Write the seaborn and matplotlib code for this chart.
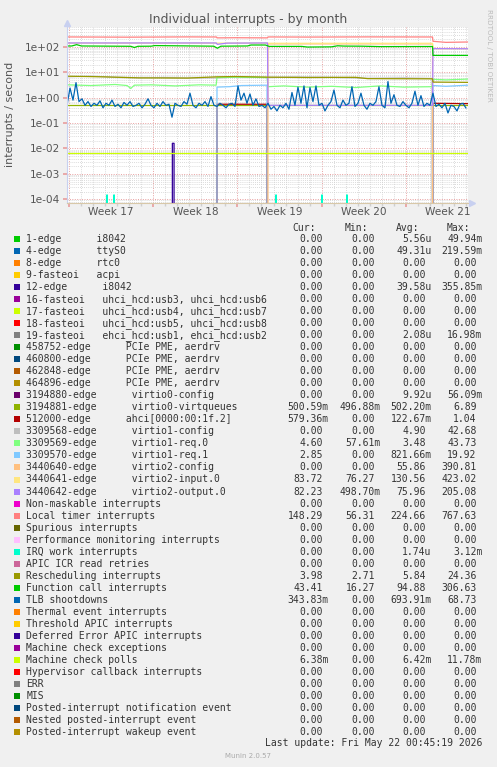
import numpy as np
import pandas as pd
import matplotlib
matplotlib.use("Agg")
import matplotlib.pyplot as plt
from matplotlib.patches import Rectangle
from matplotlib.ticker import FixedLocator, LogLocator, FuncFormatter, NullFormatter
import seaborn as sns

sns.set_theme(style="white")
plt.rcParams['font.family'] = ['DejaVu Sans']

W, H = 497, 767

# --- legend table -----------------------------------------------------------
names = ["1-edge      i8042", "4-edge      ttyS0", "8-edge      rtc0",
         "9-fasteoi   acpi", "12-edge      i8042",
         "16-fasteoi   uhci_hcd:usb3, uhci_hcd:usb6",
         "17-fasteoi   uhci_hcd:usb4, uhci_hcd:usb7",
         "18-fasteoi   uhci_hcd:usb5, uhci_hcd:usb8",
         "19-fasteoi   ehci_hcd:usb1, ehci_hcd:usb2",
         "458752-edge      PCIe PME, aerdrv", "460800-edge      PCIe PME, aerdrv",
         "462848-edge      PCIe PME, aerdrv", "464896-edge      PCIe PME, aerdrv",
         "3194880-edge      virtio0-config", "3194881-edge      virtio0-virtqueues",
         "512000-edge      ahci[0000:00:1f.2]", "3309568-edge      virtio1-config",
         "3309569-edge      virtio1-req.0", "3309570-edge      virtio1-req.1",
         "3440640-edge      virtio2-config", "3440641-edge      virtio2-input.0",
         "3440642-edge      virtio2-output.0", "Non-maskable interrupts",
         "Local timer interrupts", "Spurious interrupts",
         "Performance monitoring interrupts", "IRQ work interrupts",
         "APIC ICR read retries", "Rescheduling interrupts",
         "Function call interrupts", "TLB shootdowns", "Thermal event interrupts",
         "Threshold APIC interrupts", "Deferred Error APIC interrupts",
         "Machine check exceptions", "Machine check polls",
         "Hypervisor callback interrupts", "ERR", "MIS",
         "Posted-interrupt notification event", "Nested posted-interrupt event",
         "Posted-interrupt wakeup event"]

cur = ["0.00", "0.00", "0.00", "0.00", "0.00", "0.00", "0.00", "0.00", "0.00",
       "0.00", "0.00", "0.00", "0.00",
       "0.00", "500.59m", "579.36m", "0.00", "4.60", "2.85", "0.00", "83.72", "82.23",
       "0.00", "148.29", "0.00", "0.00", "0.00", "0.00", "3.98", "43.41", "343.83m",
       "0.00", "0.00", "0.00", "0.00", "6.38m", "0.00", "0.00", "0.00", "0.00", "0.00", "0.00"]
mins = ["0.00", "0.00", "0.00", "0.00", "0.00", "0.00", "0.00", "0.00", "0.00",
        "0.00", "0.00", "0.00", "0.00",
        "0.00", "496.88m", "0.00", "0.00", "57.61m", "0.00", "0.00", "76.27", "498.70m",
        "0.00", "56.31", "0.00", "0.00", "0.00", "0.00", "2.71", "16.27", "0.00",
        "0.00", "0.00", "0.00", "0.00", "0.00", "0.00", "0.00", "0.00", "0.00", "0.00", "0.00"]
avgs = ["5.56u", "49.31u", "0.00", "0.00", "39.58u", "0.00", "0.00", "0.00", "2.08u",
        "0.00", "0.00", "0.00", "0.00",
        "9.92u", "502.20m", "122.67m", "4.90", "3.48", "821.66m", "55.86", "130.56", "75.96",
        "0.00", "224.66", "0.00", "0.00", "1.74u", "0.00", "5.84", "94.88", "693.91m",
        "0.00", "0.00", "0.00", "0.00", "6.42m", "0.00", "0.00", "0.00", "0.00", "0.00", "0.00"]
maxs = ["49.94m", "219.59m", "0.00", "0.00", "355.85m", "0.00", "0.00", "0.00", "16.98m",
        "0.00", "0.00", "0.00", "0.00",
        "56.09m", "6.89", "1.04", "42.68", "43.73", "19.92", "390.81", "423.02", "205.08",
        "0.00", "767.63", "0.00", "0.00", "3.12m", "0.00", "24.36", "306.63", "68.73",
        "0.00", "0.00", "0.00", "0.00", "11.78m", "0.00", "0.00", "0.00", "0.00", "0.00", "0.00"]

munin_palette = ["#00CC00", "#0066B3", "#FF8000", "#FFCC00", "#330099", "#990099",
                 "#CCFF00", "#FF0000", "#808080", "#008F00", "#00487D", "#B35A00",
                 "#B38F00", "#6B006B", "#8FB300", "#B30000", "#BEBEBE", "#80FF80",
                 "#80C9FF", "#FFC080", "#FFE680", "#AA80FF", "#EE00CC", "#FF8080",
                 "#666600", "#FFBFFF", "#00FFCC", "#CC6699", "#999900"]
colors = [munin_palette[i % len(munin_palette)] for i in range(len(names))]

# --- series (x in days since start of graph) -------------------------------
i8042_x = [0, 8.74, 8.76, 8.90, 8.92, 33.34]
i8042_y = [0, 0, 0.016, 0.016, 0, 0]

vqueue_x = [0, 33.34]
vqueue_y = [0.502, 0.502]

ahci_x = [0, 12.43, 12.47, 16.63, 16.71, 30.39, 30.43, 33.34]
ahci_y = [0, 0, 0.55, 0.55, 0, 0, 0.60, 0.58]

v1cfg_x = [0, 2, 4, 6, 8, 10, 12.4, 14, 16.7, 19, 22, 25, 28, 30.35, 30.43, 33.34]
v1cfg_y = [6.6, 7.0, 6.3, 6.0, 6.2, 5.9, 6.0, 6.4, 6.2, 6.5, 6.3, 5.8, 6.0, 5.7, 0, 0]

req0_x = [0, 2, 4, 5, 5.3, 5.6, 7, 9, 11, 12.4, 12.47, 14, 16.63, 16.71,
          18, 20, 22, 24, 26, 28, 30.35, 30.43, 31.5, 33.34]
req0_y = [3.2, 3.0, 3.3, 3.0, 2.3, 3.1, 3.2, 2.9, 3.2, 3.1, 6.2, 6.4, 6.2, 2.7,
          2.9, 2.6, 2.8, 2.5, 2.9, 2.6, 2.7, 5.3, 5.0, 5.4]

req1_x = [0, 12.43, 12.47, 13.5, 14.5, 16.63, 16.71, 30.39, 30.43, 31.5, 33.34]
req1_y = [0, 0, 2.6, 2.7, 3.0, 3.1, 0, 0, 3.0, 2.8, 3.1]

v2cfg_x = [0, 16.67, 16.71, 30.39, 30.43, 33.34]
v2cfg_y = [0, 0, 130, 130, 0, 0]

v2in_x = [0, 16.67, 16.71, 30.39, 30.43, 33.34]
v2in_y = [140, 140, 138, 138, 84, 84]

v2out_x = [0, 12.4, 12.5, 13.3, 16.67, 16.71, 30.39, 30.43, 33.34]
v2out_y = [142, 142, 125, 140, 142, 0.5, 0.5, 85, 84]

timer_x = [0, 5, 10, 12.43, 12.47, 14, 16.67, 16.71, 20, 25, 30.39, 30.43, 31.5, 33.34]
timer_y = [245, 240, 246, 244, 225, 228, 225, 245, 242, 246, 244, 165, 150, 155]

irqwork_x = [0, 3.25, 3.33, 3.41, 3.83, 3.91, 3.99, 17.30, 17.38, 17.46,
             21.12, 21.20, 21.28, 23.20, 23.28, 23.36, 33.34]
irqwork_y = [0, 0, 1.5e-4, 0, 0, 1.5e-4, 0, 0, 1.5e-4, 0,
             0, 1.5e-4, 0, 0, 1.5e-4, 0, 0]

resched_x = [0, 3, 6, 10, 12.47, 14, 16.7, 20, 24, 25, 30.39, 30.43, 33.34]
resched_y = [7.0, 6.6, 6.0, 5.9, 6.6, 6.8, 6.4, 6.2, 6.3, 5.6, 5.5, 4.1, 4.0]

funccall_x = [0, 0.4, 0.8, 1.2, 5.3, 5.6, 5.9, 7.0, 7.3, 12.2, 12.5, 12.8, 15.0,
              15.3, 16.5, 16.8, 19.5, 20.0, 22.0, 22.5, 23.0, 24.5, 26.0, 30.39, 30.43, 33.34]
funccall_y = [108, 108, 122, 108, 105, 94, 105, 106, 112, 106, 88, 106, 108,
              118, 118, 104, 104, 98, 100, 110, 107, 106, 102, 103, 46, 46]

tlb_step = 0.2494  # one sample every 3 px of the original graph
tlb_y = [0.5, 2.4, 0.8, 3.9, 0.7, 0.9, 0.5, 0.7, 0.45, 0.6,
         0.5, 0.75, 0.4, 0.6, 0.5, 0.8, 0.45, 0.55, 0.4, 0.65,
         0.5, 0.7, 0.45, 0.5, 0.6, 0.4, 0.55, 0.9, 0.5, 0.4,
         0.6, 0.45, 0.7, 0.5, 0.55, 0.17, 0.6, 0.5, 0.45, 0.7,
         0.55, 1.5, 0.5, 0.4, 0.6, 0.5, 0.7, 0.45, 1.1, 0.5,
         0.45, 0.6, 0.5, 0.4, 0.55, 0.6, 0.45, 2.9, 0.8, 1.5,
         0.6, 1.4, 0.5, 0.9, 0.45, 0.5, 0.4, 0.6, 0.35, 0.45,
         0.3, 0.5, 0.4, 0.6, 0.35, 1.6, 0.5, 2.6, 0.6, 2.9,
         0.4, 2.5, 0.7, 2.9, 0.5, 0.6, 0.3, 0.5, 0.7, 2.0,
         0.5, 0.4, 0.8, 0.5, 0.6, 2.7, 0.45, 0.6, 1.5, 0.5,
         0.35, 0.6, 0.5, 0.7, 2.7, 0.5, 0.4, 4.3, 0.6, 1.3,
         0.5, 0.45, 0.7, 0.5, 0.4, 0.6, 1.8, 0.5, 1.2, 0.45,
         0.6, 0.5, 1.5, 0.45, 0.55, 0.4, 0.6, 0.25, 0.5, 0.45,
         0.3, 0.55, 0.6, 0.39]
tlb_x = list(np.arange(len(tlb_y)) * tlb_step)

mcpoll_x = [0, 33.34]
mcpoll_y = [0.0064, 0.0064]

series = [
    (4, i8042_x, i8042_y), (14, vqueue_x, vqueue_y), (15, ahci_x, ahci_y),
    (16, v1cfg_x, v1cfg_y), (17, req0_x, req0_y), (18, req1_x, req1_y),
    (19, v2cfg_x, v2cfg_y), (20, v2in_x, v2in_y), (21, v2out_x, v2out_y),
    (23, timer_x, timer_y), (26, irqwork_x, irqwork_y), (28, resched_x, resched_y),
    (29, funccall_x, funccall_y), (30, tlb_x, tlb_y), (35, mcpoll_x, mcpoll_y),
]

frames = []
for idx, xs, ys in series:
    frames.append(pd.DataFrame({"day": xs, "rate": ys, "series": names[idx]}))
df = pd.concat(frames, ignore_index=True)
order = [names[i] for i, _, _ in series]
pal = {names[i]: colors[i] for i, _, _ in series}

week_starts = [0.17, 7.17, 14.17, 21.17, 28.17]
week_labels = ["Week 17", "Week 18", "Week 19", "Week 20", "Week 21"]

# --- figure -------------------------------------------------------------------
fig = plt.figure(figsize=(W / 100, H / 100), dpi=100)
fig.patch.set_facecolor("#F0F0F0")
ax = fig.add_axes([67 / W, 1 - 202.7 / H, 401 / W, (202.7 - 27) / H])
ax.set_facecolor("white")

sns.lineplot(data=df, x="day", y="rate", hue="series", hue_order=order,
             palette=pal, estimator=None, sort=False, lw=0.9, legend=False, ax=ax)

ax.set_yscale("log", nonpositive="clip")
ax.set_ylim(7.35e-5, 603)
ax.set_xlim(0, 33.34)
ax.set_xlabel("")
ax.set_ylabel("")

ax.yaxis.set_major_locator(LogLocator(base=10, numticks=20))
ax.yaxis.set_minor_locator(LogLocator(base=10, subs=range(2, 10), numticks=20))
ax.yaxis.set_major_formatter(FuncFormatter(lambda v, _: f"{v:.0e}"))
ax.yaxis.set_minor_formatter(NullFormatter())

ax.xaxis.set_major_locator(FixedLocator(week_starts))
ax.xaxis.set_minor_locator(FixedLocator(np.arange(0.17, 33.34, 1.0)))
ax.xaxis.set_major_formatter(NullFormatter())

dots = (0, (1, 1.5))
ax.grid(which="major", axis="both", color="#E8A0A0", ls=dots, lw=0.7)
ax.grid(which="minor", axis="both", color="#CFCFCF", ls=dots, lw=0.6)
ax.set_axisbelow(True)

ax.tick_params(axis="y", which="major", length=3, color="#E8A0A0", pad=2,
               labelsize=7.6, labelcolor="#555555", left=True)
ax.tick_params(axis="y", which="minor", length=0)
ax.tick_params(axis="x", which="major", length=3, color="#E8A0A0", bottom=True)
ax.tick_params(axis="x", which="minor", length=2, color="#CFCFCF", bottom=True)

for s in ["top", "right"]:
    ax.spines[s].set_visible(False)
ax.spines["left"].set_color("#C8D0F0")
ax.spines["bottom"].set_color("#D8C8A8")
ax.spines["left"].set_linewidth(0.8)
ax.spines["bottom"].set_linewidth(0.8)
ax.plot([0], [1.02], marker="^", ms=4, color="#C8D0F0", transform=ax.transAxes, clip_on=False)
ax.plot([1.01], [0], marker=">", ms=4, color="#C8D0F0", transform=ax.transAxes, clip_on=False)

trans = ax.get_xaxis_transform()
for d, lab in zip(week_starts, week_labels):
    ax.text(d + 3.5, -0.055, lab, transform=trans, ha="center", va="center",
            fontsize=7.6, color="#555555")


def fx(px):
    return px / W


def fy(py):
    return 1 - py / H


fig.text(0.5, fy(19.3), "Individual interrupts - by month", ha="center", va="center",
         fontsize=9, color="#555555")
fig.text(fx(10), fy(114), "interrupts / second", rotation=90, ha="center", va="center",
         fontsize=8, color="#555555")
fig.text(fx(489), fy(55), "RRDTOOL / TOBI OETIKER", rotation=270, ha="center",
         va="center", fontsize=5.2, color="#BBBBBB")

mono_size = 7.0
mono = dict(family="DejaVu Sans Mono", fontsize=mono_size, color="#333333", va="center")
for lab, xr in zip(["Cur:", "Min:", "Avg:", "Max:"], [316, 368, 419, 470]):
    fig.text(fx(xr), fy(227.7), lab, ha="right", **mono)

col_edges = [322.7, 375.0, 425.7, 476.7]
char_w = mono_size * 100 / 72 * 0.602
for k, name in enumerate(names):
    yrow = 239.3 + 12.01 * k
    fig.patches.append(Rectangle((fx(14), fy(yrow + 3)), 6 / W, 6 / H,
                                 transform=fig.transFigure, facecolor=colors[k],
                                 edgecolor="none"))
    fig.text(fx(26.3), fy(yrow), name, ha="left", **mono)
    for vals, edge in zip([cur, mins, avgs, maxs], col_edges):
        v = vals[k]
        xr = edge + char_w if v[-1] in "mu" else edge
        fig.text(fx(xr), fy(yrow), v, ha="right", **mono)

fig.text(fx(482.3), fy(743.3), "Last update: Fri May 22 00:45:19 2026", ha="right", **mono)
fig.text(fx(248), fy(755.7), "Munin 2.0.57", ha="center", va="center",
         fontsize=5, color="#AAAAAA")

fig.savefig("out.png", dpi=100, facecolor=fig.get_facecolor())
